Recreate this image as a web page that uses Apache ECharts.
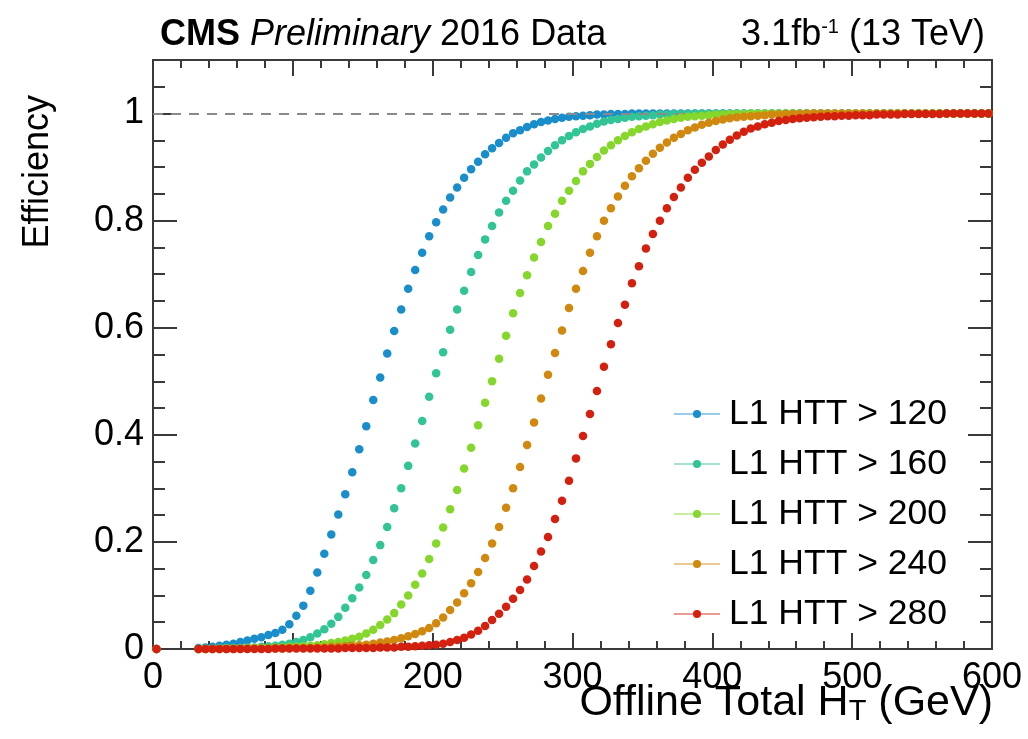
<!DOCTYPE html>
<html>
<head>
<meta charset="utf-8">
<script src="https://cdn.jsdelivr.net/npm/echarts@6/dist/echarts.min.js"></script>
<style>
  html, body { margin: 0; padding: 0; background: #ffffff; }
  #chart { width: 1028px; height: 739px; }
</style>
</head>
<body>
<div id="chart"></div>
<script>
// Offline total HT bin centres (GeV)
const htBins = [
  2.5,
  32.5, 37.5, 42.5, 47.5, 52.5, 57.5, 62.5, 67.5, 72.5, 77.5,
  82.5, 87.5, 92.5, 97.5, 102.5, 107.5, 112.5, 117.5, 122.5, 127.5,
  132.5, 137.5, 142.5, 147.5, 152.5, 157.5, 162.5, 167.5, 172.5, 177.5,
  182.5, 187.5, 192.5, 197.5, 202.5, 207.5, 212.5, 217.5, 222.5, 227.5,
  232.5, 237.5, 242.5, 247.5, 252.5, 257.5, 262.5, 267.5, 272.5, 277.5,
  282.5, 287.5, 292.5, 297.5, 302.5, 307.5, 312.5, 317.5, 322.5, 327.5,
  332.5, 337.5, 342.5, 347.5, 352.5, 357.5, 362.5, 367.5, 372.5, 377.5,
  382.5, 387.5, 392.5, 397.5, 402.5, 407.5, 412.5, 417.5, 422.5, 427.5,
  432.5, 437.5, 442.5, 447.5, 452.5, 457.5, 462.5, 467.5, 472.5, 477.5,
  482.5, 487.5, 492.5, 497.5, 502.5, 507.5, 512.5, 517.5, 522.5, 527.5,
  532.5, 537.5, 542.5, 547.5, 552.5, 557.5, 562.5, 567.5, 572.5, 577.5,
  582.5, 587.5, 592.5, 597.5
];

// Trigger efficiency per bin for each L1 HTT threshold
const effHTT120 = [
  0,
  0.002, 0.003, 0.004, 0.006, 0.008, 0.010, 0.013, 0.016, 0.019, 0.022,
  0.026, 0.030, 0.036, 0.046, 0.062, 0.081, 0.109, 0.143, 0.178, 0.214,
  0.251, 0.289, 0.330, 0.373, 0.416, 0.465, 0.507, 0.552, 0.594, 0.634,
  0.673, 0.708, 0.740, 0.771, 0.797, 0.821, 0.843, 0.862, 0.880, 0.896,
  0.910, 0.924, 0.935, 0.945, 0.955, 0.963, 0.969, 0.975, 0.980, 0.984,
  0.987, 0.990, 0.992, 0.994, 0.995, 0.996, 0.997, 0.998, 0.998, 0.999,
  0.999, 0.999, 1, 1, 1, 1, 1, 1, 1, 1,
  1, 1, 1, 1, 1, 1, 1, 1, 1, 1,
  1, 1, 1, 1, 1, 1, 1, 1, 1, 1,
  1, 1, 1, 1, 1, 1, 1, 1, 1, 1,
  1, 1, 1, 1, 1, 1, 1, 1, 1, 1,
  1, 1, 1, 1
];

const effHTT160 = [
  0,
  0.000, 0.001, 0.001, 0.001, 0.002, 0.002, 0.002, 0.003, 0.003, 0.004,
  0.005, 0.006, 0.008, 0.010, 0.013, 0.017, 0.022, 0.029, 0.037, 0.047,
  0.060, 0.077, 0.095, 0.115, 0.138, 0.166, 0.194, 0.228, 0.263, 0.300,
  0.342, 0.384, 0.426, 0.471, 0.515, 0.554, 0.596, 0.634, 0.669, 0.704,
  0.736, 0.765, 0.790, 0.815, 0.837, 0.856, 0.875, 0.892, 0.905, 0.918,
  0.930, 0.941, 0.950, 0.958, 0.965, 0.971, 0.976, 0.981, 0.985, 0.988,
  0.990, 0.992, 0.994, 0.995, 0.996, 0.997, 0.998, 0.998, 0.999, 0.999,
  0.999, 1, 1, 1, 1, 1, 1, 1, 1, 1,
  1, 1, 1, 1, 1, 1, 1, 1, 1, 1,
  1, 1, 1, 1, 1, 1, 1, 1, 1, 1,
  1, 1, 1, 1, 1, 1, 1, 1, 1, 1,
  1, 1, 1, 1
];

const effHTT200 = [
  0,
  0.000, 0.000, 0.000, 0.001, 0.001, 0.001, 0.001, 0.001, 0.002, 0.002,
  0.002, 0.003, 0.003, 0.004, 0.004, 0.005, 0.006, 0.007, 0.009, 0.011,
  0.013, 0.016, 0.019, 0.023, 0.029, 0.036, 0.045, 0.055, 0.067, 0.083,
  0.100, 0.120, 0.141, 0.168, 0.197, 0.227, 0.261, 0.297, 0.337, 0.376,
  0.418, 0.460, 0.500, 0.542, 0.585, 0.627, 0.665, 0.698, 0.731, 0.760,
  0.790, 0.813, 0.837, 0.856, 0.874, 0.892, 0.906, 0.919, 0.931, 0.941,
  0.950, 0.958, 0.965, 0.971, 0.976, 0.980, 0.984, 0.987, 0.990, 0.992,
  0.994, 0.995, 0.996, 0.997, 0.998, 0.998, 0.999, 0.999, 0.999, 1,
  1, 1, 1, 1, 1, 1, 1, 1, 1, 1,
  1, 1, 1, 1, 1, 1, 1, 1, 1, 1,
  1, 1, 1, 1, 1, 1, 1, 1, 1, 1,
  1, 1, 1, 1
];

const effHTT240 = [
  0,
  0.000, 0.000, 0.000, 0.000, 0.000, 0.000, 0.001, 0.001, 0.001, 0.001,
  0.001, 0.001, 0.001, 0.002, 0.002, 0.002, 0.002, 0.003, 0.003, 0.004,
  0.004, 0.005, 0.006, 0.007, 0.008, 0.010, 0.012, 0.014, 0.017, 0.020,
  0.024, 0.028, 0.033, 0.039, 0.048, 0.059, 0.073, 0.087, 0.104, 0.123,
  0.144, 0.170, 0.197, 0.228, 0.264, 0.300, 0.340, 0.381, 0.423, 0.468,
  0.512, 0.553, 0.595, 0.637, 0.673, 0.706, 0.740, 0.771, 0.800, 0.823,
  0.845, 0.865, 0.883, 0.898, 0.912, 0.925, 0.936, 0.946, 0.955, 0.962,
  0.969, 0.974, 0.979, 0.983, 0.986, 0.989, 0.991, 0.993, 0.994, 0.995,
  0.996, 0.997, 0.998, 0.998, 0.999, 0.999, 0.999, 1, 1, 1,
  1, 1, 1, 1, 1, 1, 1, 1, 1, 1,
  1, 1, 1, 1, 1, 1, 1, 1, 1, 1,
  1, 1, 1, 1
];

const effHTT280 = [
  0,
  0.000, 0.000, 0.000, 0.000, 0.000, 0.000, 0.000, 0.000, 0.000, 0.000,
  0.000, 0.001, 0.001, 0.001, 0.001, 0.001, 0.001, 0.001, 0.001, 0.001,
  0.001, 0.002, 0.002, 0.002, 0.002, 0.002, 0.003, 0.003, 0.003, 0.004,
  0.004, 0.005, 0.006, 0.007, 0.008, 0.010, 0.013, 0.017, 0.021, 0.027,
  0.034, 0.043, 0.054, 0.066, 0.079, 0.094, 0.110, 0.130, 0.155, 0.182,
  0.209, 0.243, 0.277, 0.314, 0.356, 0.398, 0.439, 0.482, 0.527, 0.569,
  0.609, 0.643, 0.683, 0.715, 0.748, 0.775, 0.800, 0.823, 0.844, 0.862,
  0.880, 0.895, 0.908, 0.920, 0.932, 0.942, 0.951, 0.959, 0.966, 0.972,
  0.976, 0.980, 0.983, 0.986, 0.988, 0.990, 0.991, 0.992, 0.993, 0.994,
  0.995, 0.995, 0.996, 0.996, 0.997, 0.997, 0.997, 0.998, 0.998, 0.998,
  0.998, 0.999, 0.999, 0.999, 0.999, 0.999, 0.999, 1, 1, 1,
  1, 1, 1, 1
];

const seriesNames = ['L1 HTT > 120', 'L1 HTT > 160', 'L1 HTT > 200', 'L1 HTT > 240', 'L1 HTT > 280'];
const seriesValues = [effHTT120, effHTT160, effHTT200, effHTT240, effHTT280];
const seriesColors = ['#1a8dcb', '#31c496', '#86d72c', '#d1880f', '#d4200e'];

const xTicks = [0, 100, 200, 300, 400, 500, 600];
const yTicks = [0, 0.2, 0.4, 0.6, 0.8, 1];

const FONT = '"Liberation Sans", Arial, Helvetica, sans-serif';
const AXIS_COLOR = '#3a3a3a';

const chart = echarts.init(document.getElementById('chart'), null, { renderer: 'canvas' });

const baseLine = { show: true, onZero: false, lineStyle: { color: AXIS_COLOR, width: 2 } };

function xAxisDef(position, showLabels) {
  return {
    type: 'value', position: position,
    min: xTicks[0], max: xTicks[xTicks.length - 1], interval: 100,
    axisLine: baseLine,
    axisTick: { show: true, inside: true, length: 16, lineStyle: { color: AXIS_COLOR, width: 2 } },
    minorTick: { show: true, splitNumber: 5, length: 8, lineStyle: { color: AXIS_COLOR, width: 2 } },
    splitLine: { show: false },
    axisLabel: {
      show: showLabels, color: '#000', fontSize: 36, fontFamily: FONT, margin: 11,
      formatter: v => (xTicks.indexOf(v) >= 0 ? String(v) : '')
    }
  };
}

function yAxisDef(position, interval, tickLen, showLabels) {
  return {
    type: 'value', position: position,
    min: 0, max: 1.1, interval: interval,
    axisLine: baseLine,
    axisTick: { show: true, inside: true, length: tickLen, lineStyle: { color: AXIS_COLOR, width: 2 } },
    splitLine: { show: false },
    axisLabel: {
      show: showLabels, color: '#000', fontSize: 36, fontFamily: FONT, margin: 9,
      showMaxLabel: false,
      formatter: v => {
        const hit = yTicks.find(t => Math.abs(t - v) < 1e-6);
        return hit === undefined ? '' : String(hit);
      }
    }
  };
}

const series = seriesNames.map((name, s) => ({
  name: name,
  type: 'line',
  xAxisIndex: 0,
  yAxisIndex: 0,
  data: htBins.map((x, i) => [x, seriesValues[s][i]]),
  symbol: 'circle',
  symbolSize: 8.5,
  showSymbol: true,
  showAllSymbol: true,
  lineStyle: { opacity: 0, width: 0 },
  itemStyle: { color: seriesColors[s] },
  emphasis: { disabled: true },
  animation: false,
  z: 3 + s
}));

// Unity reference line
series.push({
  name: 'unity',
  type: 'line',
  data: [],
  xAxisIndex: 0,
  yAxisIndex: 0,
  animation: false,
  z: 10,
  markLine: {
    silent: true,
    symbol: ['none', 'none'],
    label: { show: false },
    lineStyle: { type: [10, 8], color: '#8a8a8a', width: 2 },
    data: [{ yAxis: 1 }],
    animation: false
  }
});

chart.setOption({
  backgroundColor: '#ffffff',
  animation: false,
  grid: { left: 153, right: 36, top: 60, bottom: 90, containLabel: false },
  xAxis: [xAxisDef('bottom', true), xAxisDef('top', false)],
  yAxis: [
    yAxisDef('left', 0.2, 24, true),
    yAxisDef('left', 0.05, 12, false),
    yAxisDef('right', 0.2, 24, false),
    yAxisDef('right', 0.05, 12, false)
  ],
  legend: {
    data: seriesNames,
    orient: 'vertical',
    left: 668,
    top: 391,
    itemWidth: 46,
    itemHeight: 10,
    itemGap: 14,
    selectedMode: false,
    lineStyle: { opacity: 0.45, width: 2 },
    textStyle: { color: '#000', fontSize: 35.5, fontFamily: FONT, lineHeight: 35, padding: [0, 0, 0, 4] }
  },
  graphic: [
    {
      type: 'text', left: 160, top: 17, silent: true,
      style: {
        text: '{b|CMS} {i|Preliminary} 2016 Data',
        fill: '#000', font: '36px ' + FONT,
        rich: {
          b: { fontWeight: 'bold', fontSize: 36, fontFamily: FONT },
          i: { fontStyle: 'italic', fontSize: 36, fontFamily: FONT }
        }
      }
    },
    {
      type: 'text', right: 43, top: 17, silent: true,
      style: {
        text: '3.1fb{sup|-1} (13 TeV)',
        fill: '#000', font: '36px ' + FONT,
        rich: { sup: { fontSize: 20, fontFamily: FONT, verticalAlign: 'top', lineHeight: 20 } }
      }
    },
    {
      type: 'text', right: 35, top: 671, silent: true,
      style: {
        text: '{m|Offline Total H}{s|T}{m| (GeV)}',
        fill: '#000',
        rich: {
          m: { fontSize: 43, fontFamily: FONT, verticalAlign: 'top', lineHeight: 44 },
          s: { fontSize: 29, fontFamily: FONT, verticalAlign: 'bottom', lineHeight: 30, padding: [26, 0, 0, 0] }
        }
      }
    },
    {
      type: 'text', x: 38, y: 95, rotation: Math.PI / 2, silent: true,
      style: {
        text: 'Efficiency', fill: '#000', font: '36px ' + FONT,
        align: 'right', verticalAlign: 'middle'
      }
    }
  ],
  series: series
});
</script>
</body>
</html>
